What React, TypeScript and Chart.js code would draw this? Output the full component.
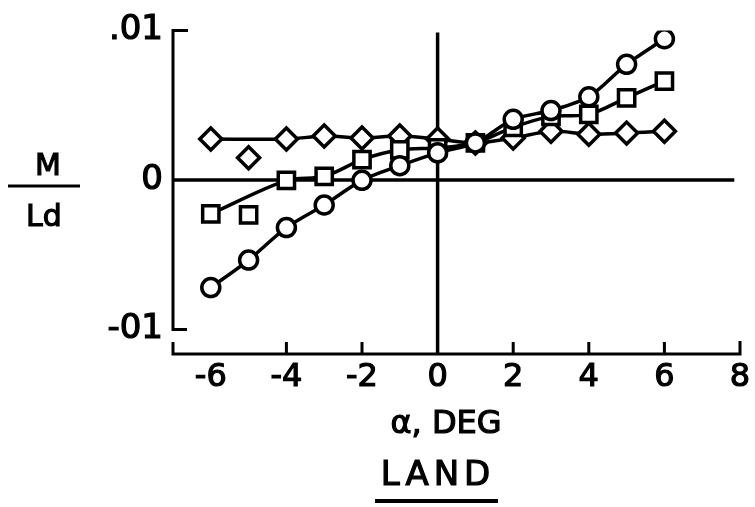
import { useEffect, useRef } from "react";
import { Chart, registerables } from "chart.js";

Chart.register(...registerables);

// ---- data ----
const alphaDeg = [-6, -5, -4, -3, -2, -1, 0, 1, 2, 3, 4, 5, 6];
const circleM = [-0.0072, -0.00536, -0.00319, -0.00168, -0.00003, 0.00095, 0.00181, 0.00247, 0.00405, 0.00464, 0.00556, 0.00773, 0.00944];
const squareM = [-0.00227, -0.00234, -0.00003, 0.00023, 0.00135, 0.00201, 0.00214, 0.00247, 0.00352, 0.00425, 0.00438, 0.00549, 0.00661];
const diamondM = [0.00273, 0.00148, 0.00273, 0.00293, 0.0028, 0.00293, 0.00273, 0.00247, 0.0028, 0.00326, 0.00306, 0.00313, 0.00326];
// points left off the faired curves
const squareFairSkip = [-5];
const diamondFairSkip = [-5];
const circleFairSkip: number[] = [];

const xTickValues = [-6, -4, -2, 0, 2, 4, 6, 8];
const yTickValues = [-0.01, 0, 0.01];
const yTickLabels = ["-01", "0", ".01"];
const xAxisTitle = "α, DEG";
const yTitleTop = "M";
const yTitleBottom = "Ld";
const panelTitle = "LAND";

const X_MIN = -7;
const X_MAX = 8;
const Y_MIN = -0.011645;
const Y_MAX = 0.01;

const FONT = "'DejaVu Sans', 'Liberation Sans', sans-serif";

const pts = (ys: number[], skip: number[] = []) =>
  alphaDeg
    .map((a, i) => ({ x: a, y: ys[i] }))
    .filter((p) => !skip.includes(p.x));

const frame = {
  id: "frame",
  beforeDatasetsDraw(chart: any) {
    const { ctx, chartArea, scales } = chart;
    const xs = scales.x;
    const ys = scales.y;
    const X = (v: number) => xs.getPixelForValue(v);
    const Y = (v: number) => ys.getPixelForValue(v);
    const left = chartArea.left;
    const bottom = chartArea.bottom;
    ctx.save();
    ctx.strokeStyle = "#000";
    ctx.lineWidth = 3;
    ctx.lineJoin = "miter";
    ctx.beginPath();
    // y axis with inward ticks at top / bottom values
    ctx.moveTo(left + 15, Y(Y_MAX));
    ctx.lineTo(left, Y(Y_MAX));
    ctx.lineTo(left, Y(yTickValues[0]));
    ctx.lineTo(left + 14, Y(yTickValues[0]));
    // x axis
    ctx.moveTo(left, bottom - 12);
    ctx.lineTo(left, bottom);
    ctx.lineTo(X(X_MAX), bottom);
    ctx.lineTo(X(X_MAX), bottom - 13);
    for (const t of xTickValues) {
      if (t === 0 || t === X_MAX || t === -6) continue;
      ctx.moveTo(X(t), bottom);
      ctx.lineTo(X(t), bottom - 12);
    }
    ctx.stroke();
    // zero lines
    ctx.beginPath();
    ctx.lineWidth = 3.5;
    ctx.moveTo(left, Y(0));
    ctx.lineTo(X(7.85), Y(0));
    ctx.moveTo(X(0), Y(Y_MAX) + 2);
    ctx.lineTo(X(0), bottom);
    ctx.stroke();
    ctx.restore();
  },
  afterDraw(chart: any) {
    const { ctx } = chart;
    ctx.save();
    ctx.fillStyle = "#000";
    ctx.strokeStyle = "#000";
    ctx.textAlign = "center";
    ctx.textBaseline = "middle";
    const txt = (s: string, x: number, y: number) => {
      ctx.lineWidth = 1.2;
      ctx.fillText(s, x, y);
      ctx.strokeText(s, x, y);
    };
    // y title as fraction
    ctx.font = `30px ${FONT}`;
    txt(yTitleTop, 48, 167);
    txt(yTitleBottom, 44, 218);
    ctx.lineWidth = 3;
    ctx.beginPath();
    ctx.moveTo(8, 186);
    ctx.lineTo(80, 186);
    ctx.stroke();
    // x title
    ctx.font = `32px ${FONT}`;
    txt(xAxisTitle, 446, 425);
    // panel title with underline
    ctx.font = `34px ${FONT}`;
    (ctx as any).letterSpacing = "5px";
    txt(panelTitle, 438, 476);
    (ctx as any).letterSpacing = "0px";
    ctx.lineWidth = 4;
    ctx.beginPath();
    ctx.moveTo(375, 501);
    ctx.lineTo(498, 501);
    ctx.stroke();
    ctx.restore();
  },
};

export default function App() {
  const ref = useRef<HTMLCanvasElement | null>(null);
  useEffect(() => {
    if (!ref.current) return;
    const markerBase = {
      type: "scatter" as const,
      showLine: false,
      borderColor: "#000",
      backgroundColor: "#fff",
      borderWidth: 3.5,
      order: 0,
    };
    const lineBase = {
      type: "line" as const,
      showLine: true,
      borderColor: "#000",
      borderWidth: 3.5,
      pointRadius: 0,
      fill: false,
      tension: 0.3,
      order: 1,
    };
    const chart = new Chart(ref.current, {
      type: "scatter",
      data: {
        datasets: [
          { ...markerBase, label: "circles", data: pts(circleM), pointStyle: "circle", pointRadius: 9 },
          { ...markerBase, label: "squares", data: pts(squareM), pointStyle: "rect", pointRadius: 11.5 },
          { ...markerBase, label: "diamonds", data: pts(diamondM), pointStyle: "rectRot", pointRadius: 11 },
          { ...lineBase, label: "circle fair", data: pts(circleM, circleFairSkip) },
          { ...lineBase, label: "square fair", data: pts(squareM, squareFairSkip) },
          { ...lineBase, label: "diamond fair", data: pts(diamondM, diamondFairSkip) },
        ] as any,
      },
      options: {
        animation: false,
        responsive: false,
        devicePixelRatio: 1,
        layout: { padding: { top: 25, right: 14, left: 0, bottom: 0 } },
        plugins: { legend: { display: false }, tooltip: { enabled: false }, title: { display: false } },
        scales: {
          x: {
            type: "linear",
            min: X_MIN,
            max: X_MAX,
            grid: { display: false, drawTicks: false },
            border: { display: false },
            afterBuildTicks: (s: any) => {
              s.ticks = xTickValues.map((v) => ({ value: v }));
            },
            afterFit: (s: any) => {
              s.height = 153;
            },
            ticks: {
              color: "#000",
              padding: 4,
              maxRotation: 0,
              autoSkip: false,
              textStrokeColor: "#000",
              textStrokeWidth: 1.2,
              font: { family: FONT, size: 32 },
              callback: (v: any) => String(v),
            },
          },
          y: {
            type: "linear",
            min: Y_MIN,
            max: Y_MAX,
            grid: { display: false, drawTicks: false },
            border: { display: false },
            afterBuildTicks: (s: any) => {
              s.ticks = yTickValues.map((v) => ({ value: v }));
            },
            afterFit: (s: any) => {
              s.width = 173;
            },
            ticks: {
              color: "#000",
              padding: 10,
              autoSkip: false,
              textStrokeColor: "#000",
              textStrokeWidth: 1.2,
              font: { family: FONT, size: 34 },
              callback: (v: any) => {
                const i = yTickValues.findIndex((t) => Math.abs(t - Number(v)) < 1e-9);
                return i >= 0 ? yTickLabels[i] : "";
              },
            },
          },
        },
      },
      plugins: [frame],
    });
    return () => chart.destroy();
  }, []);
  return (
    <div style={{ position: "absolute", left: 0, top: 0, width: 755, height: 507, background: "#fff" }}>
      <canvas ref={ref} width={755} height={507} />
    </div>
  );
}
